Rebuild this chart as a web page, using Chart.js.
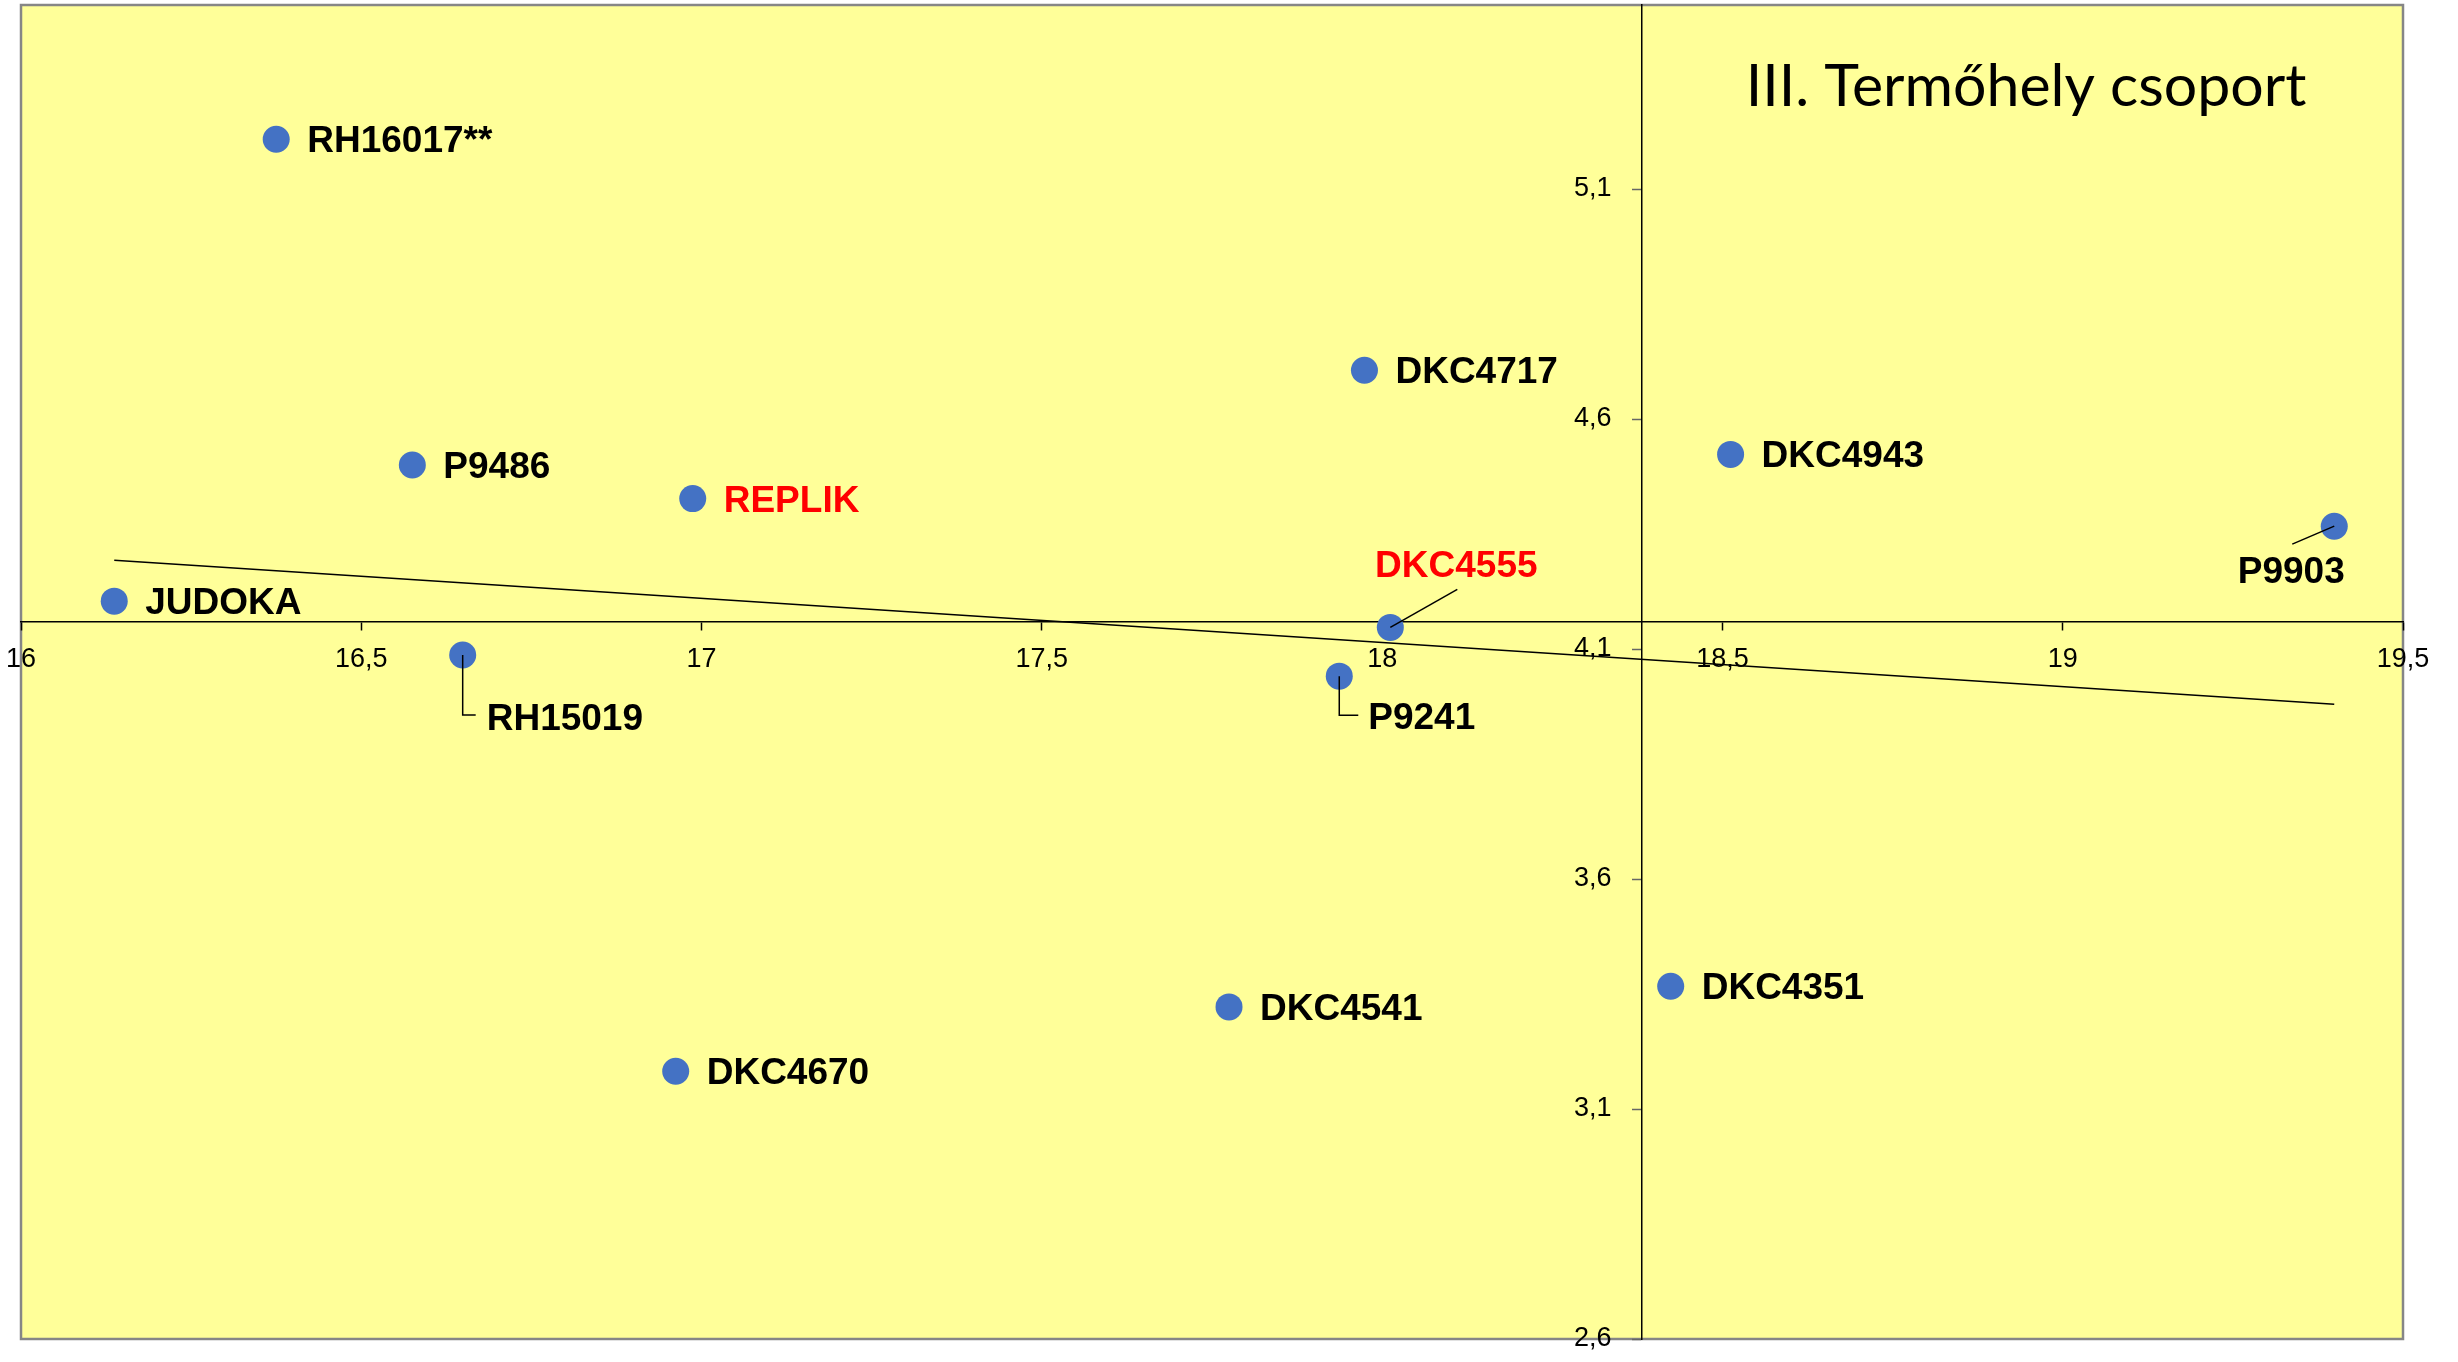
<!DOCTYPE html>
<html lang="hu">
<head>
<meta charset="utf-8">
<title>III. Termőhely csoport</title>
<script src="https://cdn.jsdelivr.net/npm/chart.js@4.4.1/dist/chart.umd.min.js"></script>
<style>
  html, body { margin: 0; padding: 0; background: #fff; }
  canvas { display: block; }
</style>
</head>
<body>
<canvas id="chart" width="2458" height="1362"></canvas>
<script>
// Hibridek - III. termőhely csoport (x: termés, y: beltartalom)
const hybrids = ['RH16017**', 'P9486', 'REPLIK', 'JUDOKA', 'RH15019', 'DKC4717', 'DKC4555',
    'P9241', 'DKC4541', 'DKC4670', 'DKC4943', 'P9903', 'DKC4351'];
const xValues = [16.375, 16.575, 16.987, 16.137, 16.649, 17.974, 18.012,
    17.937, 17.775, 16.962, 18.512, 19.399, 18.424];
const yValues = [5.208, 4.500, 4.427, 4.204, 4.087, 4.706, 4.147,
    4.041, 3.322, 3.182, 4.523, 4.367, 3.367];
const highlighted = ['REPLIK', 'DKC4555'];

// trendline end points
const trendX = [16.137, 19.399];
const trendY = [4.293, 3.980];

const xTicks = [16, 16.5, 17, 17.5, 18, 18.5, 19, 19.5];
const yTicks = [2.6, 3.1, 3.6, 4.1, 4.6, 5.1];
const xRange = [16, 19.5];
const yRange = [2.6, 5.5];
const crossX = 18.381; // y axis crosses here
const crossY = 4.160;  // x axis crosses here

const chartTitle = 'III. Termőhely csoport';

// label placement (px relative to the point), default: right of the point
const defaultLabel = { dx: 31, dy: 13, align: 'left' };
const labelPlacement = {
    'RH15019': { dx: 24, dy: 75, align: 'left', leader: [[0, 0], [0, 60], [13, 60]] },
    'P9241': { dx: 29, dy: 53, align: 'left', leader: [[0, 0], [0, 39], [19, 39]] },
    'DKC4555': { dx: 66, dy: -50, align: 'center', leader: [[0, 0], [67, -38]] },
    'P9903': { dx: -43, dy: 57, align: 'center', leader: [[0, 0], [-42, 18]] }
};

const fmt = v => String(v).replace('.', ',');

Chart.defaults.font.family = '"Liberation Sans", Arial, sans-serif';
Chart.defaults.color = '#000';

// axes sit inside the plot, so they should not push the plot area in
const noScalePadding = s => {
    s.paddingTop = s.paddingBottom = s.paddingLeft = s.paddingRight = 0;
};

// yellow plot area with grey frame
const plotArea = {
    id: 'plotArea',
    beforeDraw(chart) {
        const { ctx, chartArea: a } = chart;
        ctx.save();
        ctx.fillStyle = '#FFFF99';
        ctx.fillRect(a.left, a.top, a.width, a.height);
        ctx.strokeStyle = '#868686';
        ctx.lineWidth = 2.5;
        ctx.strokeRect(a.left, a.top, a.width, a.height);
        ctx.restore();
    }
};

// hybrid names next to the points
const pointLabels = {
    id: 'pointLabels',
    afterDatasetsDraw(chart) {
        const { ctx } = chart;
        const meta = chart.getDatasetMeta(0);
        ctx.save();
        ctx.font = 'bold 37px "Liberation Sans", Arial, sans-serif';
        ctx.textBaseline = 'alphabetic';
        meta.data.forEach((pt, i) => {
            const name = hybrids[i];
            const p = labelPlacement[name] || defaultLabel;
            if (p.leader) {
                ctx.beginPath();
                p.leader.forEach(([lx, ly], k) => {
                    if (k === 0) ctx.moveTo(pt.x + lx, pt.y + ly);
                    else ctx.lineTo(pt.x + lx, pt.y + ly);
                });
                ctx.strokeStyle = '#000';
                ctx.lineWidth = 1.5;
                ctx.stroke();
            }
            ctx.fillStyle = highlighted.includes(name) ? '#FF0000' : '#000';
            ctx.textAlign = p.align;
            ctx.fillText(name, pt.x + p.dx, pt.y + p.dy);
        });
        ctx.restore();
    }
};

// title inside the plot, top right
const cornerTitle = {
    id: 'cornerTitle',
    afterDraw(chart) {
        const { ctx, chartArea: a } = chart;
        ctx.save();
        ctx.font = '59px Lato, "Open Sans", sans-serif';
        ctx.fillStyle = '#000';
        ctx.textAlign = 'center';
        ctx.textBaseline = 'alphabetic';
        ctx.fillText(chartTitle, a.right - 377, a.top + 101);
        ctx.restore();
    }
};

const ctx = document.getElementById('chart').getContext('2d');
new Chart(ctx, {
    type: 'scatter',
    data: {
        datasets: [{
            label: 'Hibridek',
            data: hybrids.map((h, i) => ({ x: xValues[i], y: yValues[i] })),
            backgroundColor: '#4472C4',
            borderWidth: 0,
            pointRadius: 13.5,
            pointHoverRadius: 13.5
        }, {
            label: 'Trend',
            data: trendX.map((x, i) => ({ x, y: trendY[i] })),
            showLine: true,
            borderColor: '#000',
            borderWidth: 1.5,
            pointRadius: 0,
            fill: false
        }]
    },
    options: {
        responsive: false,
        animation: false,
        layout: {
            autoPadding: false,
            padding: { left: 21, top: 5, right: 55, bottom: 23 }
        },
        plugins: {
            legend: { display: false },
            tooltip: { enabled: false }
        },
        scales: {
            x: {
                type: 'linear',
                min: xRange[0],
                max: xRange[1],
                position: { y: crossY },
                afterBuildTicks: s => { s.ticks = xTicks.map(v => ({ value: v })); },
                afterFit: noScalePadding,
                grid: { drawOnChartArea: false, drawTicks: true, tickLength: 8, tickColor: '#000', tickWidth: 1.5 },
                border: { display: true, color: '#000', width: 1.5 },
                ticks: { font: { size: 27 }, padding: 14, maxRotation: 0, autoSkip: false, callback: v => fmt(v) }
            },
            y: {
                type: 'linear',
                min: yRange[0],
                max: yRange[1],
                position: { x: crossX },
                afterBuildTicks: s => { s.ticks = yTicks.map(v => ({ value: v })); },
                afterFit: noScalePadding,
                grid: { drawOnChartArea: false, drawTicks: true, tickLength: 9, tickColor: '#666', tickWidth: 1.5 },
                border: { display: true, color: '#000', width: 1.5 },
                // trailing spaces keep the labels clear of the tick marks
                ticks: { font: { size: 27 }, autoSkip: false, callback: v => fmt(v) + '    ' }
            }
        }
    },
    plugins: [plotArea, pointLabels, cornerTitle]
});
</script>
</body>
</html>
